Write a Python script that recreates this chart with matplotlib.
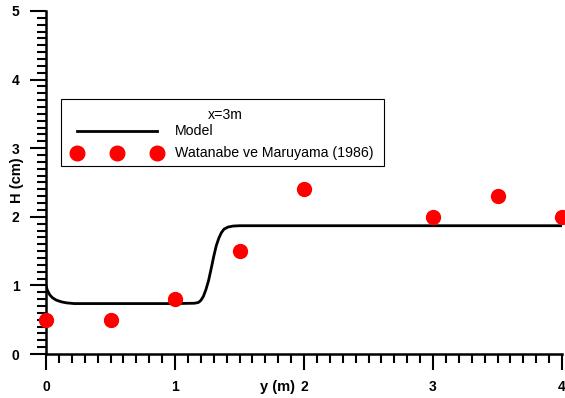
import matplotlib
matplotlib.use("Agg")
import matplotlib.pyplot as plt
from matplotlib.lines import Line2D
from matplotlib.patches import Rectangle
from matplotlib.ticker import MultipleLocator

# Measured data (Watanabe ve Maruyama 1986)
obs_y = [0.0, 0.5, 1.0, 1.5, 2.0, 3.0, 3.5, 4.0]
obs_H = [0.5, 0.5, 0.8, 1.5, 2.4, 2.0, 2.3, 2.0]

# Model curve
model_y = [0.0, 0.01, 0.03, 0.05, 0.08, 0.12, 0.16, 0.22, 0.5, 1.0, 1.15, 1.18, 1.2, 1.22,
           1.24, 1.26, 1.28, 1.3, 1.32, 1.34, 1.36, 1.38, 1.41, 1.45, 1.5, 2.0, 3.0, 4.0]
model_H = [1.0, 0.93, 0.86, 0.82, 0.785, 0.76, 0.745, 0.735, 0.735, 0.735, 0.74, 0.75, 0.78, 0.84,
           0.94, 1.07, 1.24, 1.42, 1.58, 1.69, 1.77, 1.82, 1.85, 1.865, 1.87, 1.87, 1.87, 1.87]

xticks = [0, 1, 2, 3, 4]
yticks = [0, 1, 2, 3, 4, 5]
legend_title = 'x=3m'
legend_labels = ['Model', 'Watanabe ve Maruyama (1986)']

plt.rcParams['font.family'] = ['Liberation Sans', 'DejaVu Sans']

W, H = 565, 398
fig = plt.figure(figsize=(W / 100, H / 100), dpi=100)


def fx(x):
    return x / W


def fy(y):
    return 1 - y / H


ax = fig.add_axes([fx(46), fy(354), 516 / W, 343 / H])

ax.plot(model_y, model_H, color='black', lw=2.0, solid_capstyle='butt')
ax.plot(obs_y, obs_H, 'o', color='#ff0000', ms=10, mec='#ff0000', clip_on=False, zorder=5)

ax.set_xlim(0, 4)
ax.set_ylim(0, 5)
for s in ['top', 'right']:
    ax.spines[s].set_visible(False)
for s in ['left', 'bottom']:
    ax.spines[s].set_linewidth(1.8)

ax.set_xticks(xticks)
ax.set_yticks(yticks)
ax.xaxis.set_minor_locator(MultipleLocator(0.1))
ax.yaxis.set_minor_locator(MultipleLocator(0.1))
ax.tick_params(which='major', direction='out', length=11.5, width=1.5, labelsize=10, pad=7.5)
ax.tick_params(which='minor', direction='out', length=6.5, width=1.5)
for lab in ax.get_xticklabels() + ax.get_yticklabels():
    lab.set_fontweight('bold')

# axis labels placed as in the reference
fig.text(fx(17), fy(180), 'H (cm)', rotation=90, ha='center', va='center',
         fontsize=10.5, fontweight='bold')
fig.text(fx(277), fy(387), 'y (m)', ha='center', va='center',
         fontsize=10.5, fontweight='bold')

# legend box drawn in figure coordinates
fig.patches.append(Rectangle((fx(61), fy(166)), (384 - 61) / W, (166 - 99) / H,
                             transform=fig.transFigure, facecolor='white',
                             edgecolor='black', lw=0.8, zorder=10))
fig.text(fx(225), fy(115), legend_title, ha='center', va='center', fontsize=10.2, zorder=11)
fig.lines.append(Line2D([fx(77), fx(157)], [fy(131), fy(131)], transform=fig.transFigure,
                        color='black', lw=2.0, zorder=11))
fig.lines.append(Line2D([fx(77), fx(117), fx(157)], [fy(153)] * 3, transform=fig.transFigure,
                        ls='none', marker='o', ms=10.5, color='#ff0000', zorder=11))
fig.text(fx(175), fy(131), legend_labels[0], ha='left', va='center', fontsize=10.2, zorder=11)
fig.text(fx(175), fy(153), legend_labels[1], ha='left', va='center', fontsize=10.2, zorder=11)

fig.savefig('out.png', dpi=100)
